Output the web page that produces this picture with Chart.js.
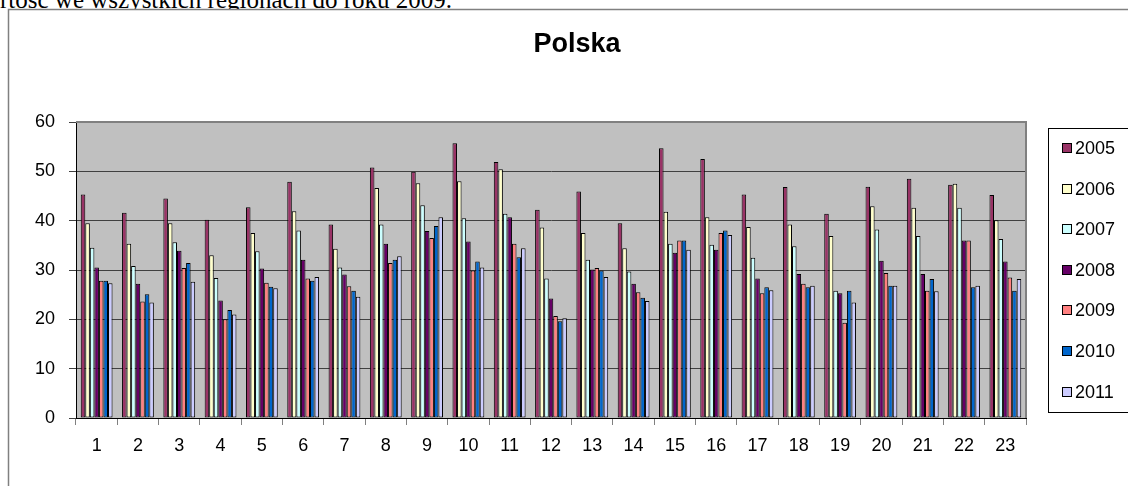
<!DOCTYPE html>
<html>
<head>
<meta charset="utf-8">
<script src="https://cdn.jsdelivr.net/npm/chart.js@4.4.1/dist/chart.umd.min.js"></script>
<style>
  html, body { margin: 0; padding: 0; background: #fff; overflow: hidden; }
  #wrap { position: relative; width: 1128px; height: 486px; overflow: hidden; }
  #note { position: absolute; left: 0; top: -13px; font: 25px/25px "Liberation Serif", serif; white-space: nowrap; color: #000; }
  #c { position: absolute; left: 0; top: 0; }
</style>
</head>
<body>
<div id="wrap">
  <div id="note">rtość we wszystkich regionach do roku 2009.</div>
  <canvas id="c" width="1128" height="486"></canvas>
</div>
<script>
'use strict';

/* ---- data ---- */
var REGIONS = ['1','2','3','4','5','6','7','8','9','10','11','12','13','14','15','16','17','18','19','20','21','22','23'];
var YEARS   = ['2005','2006','2007','2008','2009','2010','2011'];
var COLORS  = ['#993366','#FFFFCC','#CCFFFF','#660066','#FF8080','#0066CC','#CCCCFF'];
var Y_TICKS = [0, 10, 20, 30, 40, 50, 60];

var V2005 = [45.3,41.6,44.5,40.2,42.7,47.9,39.2,50.8,49.9,55.7,51.9,42.2,45.9,39.5,54.7,52.5,45.3,46.8,41.4,46.9,48.5,47.3,45.2];
var V2006 = [39.5,35.3,39.5,33.0,37.5,41.9,34.3,46.6,47.6,48.0,50.4,38.6,37.5,34.4,41.8,40.7,38.7,39.2,36.9,42.9,42.6,47.5,40.1];
var V2007 = [34.5,30.8,35.6,28.4,33.8,38.0,30.5,39.2,43.1,40.5,41.4,28.3,32.1,29.7,35.3,35.1,32.5,34.8,25.8,38.2,36.9,42.6,36.3];
var V2008 = [30.5,27.2,33.9,23.8,30.3,32.1,29.1,35.3,37.9,35.8,40.7,24.2,30.1,27.2,33.5,34.1,28.3,29.2,25.3,31.9,29.2,36.0,31.7];
var V2009 = [27.8,23.6,30.4,20.0,27.4,28.3,26.7,31.4,36.5,29.9,35.3,20.7,30.4,25.5,36.0,37.5,25.3,27.2,19.3,29.4,25.8,36.0,28.5];
var V2010 = [27.8,25.1,31.4,21.9,26.6,27.8,25.8,32.1,38.9,31.7,32.6,19.6,29.9,24.4,36.0,38.0,26.5,26.5,25.8,26.8,28.2,26.5,25.8];
var V2011 = [27.3,23.4,27.6,21.0,26.3,28.6,24.6,32.8,40.7,30.5,34.4,20.2,28.6,23.7,34.1,37.1,25.9,26.8,23.4,26.8,25.7,26.8,28.2];

var SERIES = [V2005, V2006, V2007, V2008, V2009, V2010, V2011];
var TITLE  = 'Polska';
var FONT   = '"Liberation Sans", Arial, sans-serif';

/* ---- frame, plot background, title, legend ---- */
var excelLook = {
  id: 'excelLook',
  beforeDraw: function (chart) {
    var c = chart.ctx, a = chart.chartArea;
    c.save();
    c.fillStyle = '#fff';
    c.fillRect(8, 9, chart.width, chart.height);
    c.strokeStyle = '#808080';
    c.lineWidth = 1.5;
    c.beginPath();
    c.moveTo(8.5, chart.height);
    c.lineTo(8.5, 9.5);
    c.lineTo(chart.width, 9.5);
    c.stroke();
    c.fillStyle = '#C0C0C0';
    c.fillRect(a.left, a.top, a.right - a.left, a.bottom - a.top);
    c.restore();
  },
  afterDraw: function (chart) {
    var c = chart.ctx, a = chart.chartArea;
    c.save();
    // plot border (top + right)
    c.strokeStyle = '#808080';
    c.lineWidth = 2;
    c.beginPath();
    c.moveTo(a.left, a.top);
    c.lineTo(a.right, a.top);
    c.lineTo(a.right, a.bottom);
    c.stroke();

    // title
    c.fillStyle = '#000';
    c.font = 'bold 27px ' + FONT;
    c.textAlign = 'center';
    c.textBaseline = 'alphabetic';
    c.fillText(TITLE, 577, 52);

    // legend
    var lx = 1048, ly = 128, lh = 284;
    c.fillStyle = '#fff';
    c.fillRect(lx, ly, 120, lh);
    c.strokeStyle = '#000';
    c.lineWidth = 1;
    c.strokeRect(lx + 0.5, ly + 0.5, 120, lh);
    c.font = '18px ' + FONT;
    c.textAlign = 'left';
    c.textBaseline = 'middle';
    chart.data.datasets.forEach(function (ds, i) {
      var cy = 148 + i * 40.6;
      c.fillStyle = ds.backgroundColor;
      c.fillRect(1062, Math.round(cy) - 5, 10, 10);
      c.strokeStyle = '#000';
      c.strokeRect(1062.5, Math.round(cy) - 4.5, 9, 9);
      c.fillStyle = '#000';
      c.fillText(ds.label, 1075, cy + 1);
    });
    c.restore();
  }
};

new Chart(document.getElementById('c').getContext('2d'), {
  type: 'bar',
  data: {
    labels: REGIONS,
    datasets: YEARS.map(function (y, i) {
      return {
        label: y,
        data: SERIES[i],
        backgroundColor: COLORS[i],
        borderColor: '#000',
        borderWidth: 1,
        borderSkipped: false,
        categoryPercentage: 0.77,
        barPercentage: 1
      };
    })
  },
  options: {
    responsive: false,
    animation: false,
    devicePixelRatio: 1,
    layout: { padding: { top: 122, right: 102, left: 0, bottom: 0 } },
    plugins: {
      legend: { display: false },
      title: { display: false },
      tooltip: { enabled: false }
    },
    scales: {
      x: {
        grid: { offset: true, drawOnChartArea: false, drawTicks: true, tickLength: 7, color: '#808080' },
        border: { color: '#000', width: 1 },
        ticks: { color: '#000', font: { family: FONT, size: 18 }, padding: 10, maxRotation: 0 },
        afterFit: function (s) { s.height = 68; }
      },
      y: {
        min: 0,
        max: 60,
        afterBuildTicks: function (s) { s.ticks = Y_TICKS.map(function (v) { return { value: v }; }); },
        grid: { color: '#404040', tickLength: 7, drawTicks: true },
        border: { color: '#000', width: 1 },
        ticks: { color: '#000', font: { family: FONT, size: 18 }, padding: 14 },
        afterFit: function (s) { s.width = 76; }
      }
    }
  },
  plugins: [excelLook]
});
</script>
</body>
</html>
